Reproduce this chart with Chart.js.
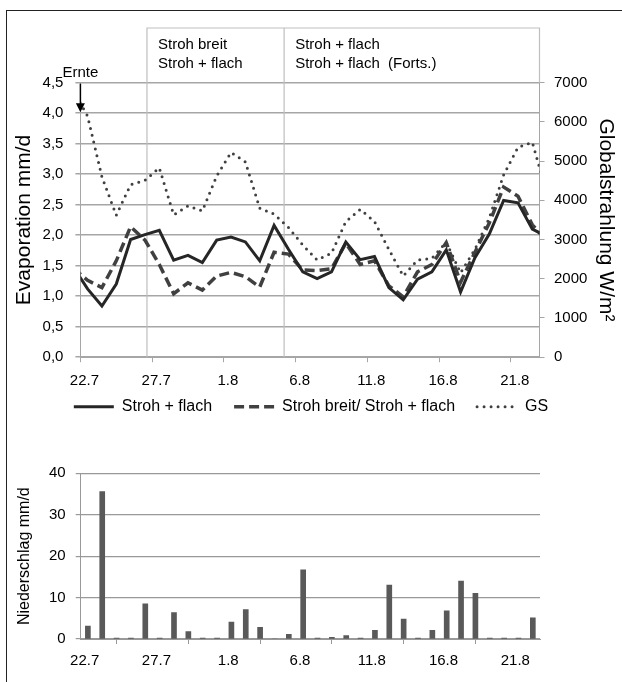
<!DOCTYPE html>
<html>
<head>
<meta charset="utf-8">
<script src="https://cdn.jsdelivr.net/npm/chart.js@4"></script>
<style>
  body { margin: 0; background: #fff; }
  #wrap { position: relative; width: 622px; height: 682px; overflow: hidden; }
  #frame { position: absolute; left: 6px; top: 10px; width: 700px; height: 700px;
           border-left: 1px solid #222; border-top: 1px solid #222; }
  #top { position: absolute; left: 0; top: 0; }
  #bottom { position: absolute; left: 0; top: 445px; }
</style>
</head>
<body>
<div id="wrap">
  <div id="frame"></div>
  <canvas id="top" width="622" height="445"></canvas>
  <canvas id="bottom" width="622" height="237"></canvas>
</div>
<script>
Chart.defaults.font.family = "'Liberation Sans', Arial, sans-serif";
Chart.defaults.font.size = 15;
Chart.defaults.color = "#000";
Chart.defaults.animation = false;

// 22.7. - 22.8.
const days = ["22.7", "23.7", "24.7", "25.7", "26.7", "27.7", "28.7", "29.7", "30.7", "31.7",
  "1.8", "2.8", "3.8", "4.8", "5.8", "6.8", "7.8", "8.8", "9.8", "10.8",
  "11.8", "12.8", "13.8", "14.8", "15.8", "16.8", "17.8", "18.8", "19.8", "20.8",
  "21.8", "22.8"];
// lines run off both ends of the axis, so one day more on each side
const lineDays = ["21.7"].concat(days, ["23.8"]);
const tickLabels = ["22.7", "27.7", "1.8", "6.8", "11.8", "16.8", "21.8"];

const strohFlach = [1.48, 1.12, 0.84, 1.20, 1.93, 2.01, 2.08, 1.59, 1.67, 1.55, 1.92,
  1.97, 1.89, 1.58, 2.16, 1.77, 1.40, 1.29, 1.40, 1.89, 1.60,
  1.65, 1.14, 0.94, 1.28, 1.40, 1.76, 1.07, 1.63, 2.02, 2.57,
  2.53, 2.10, 1.98];
const strohBreitFlach = [1.46, 1.26, 1.14, 1.58, 2.14, 1.92, 1.52, 1.04, 1.22, 1.10, 1.33,
  1.39, 1.32, 1.15, 1.72, 1.69, 1.43, 1.42, 1.45, 1.87, 1.52,
  1.58, 1.17, 0.99, 1.40, 1.52, 1.88, 1.23, 1.72, 2.20, 2.79,
  2.64, 2.17, 1.91];
const globalstrahlung = [6800, 6150, 4600, 3620, 4400, 4510, 4830, 3630, 3860, 3730, 4620,
  5220, 4980, 3800, 3650, 3310, 2860, 2480, 2650, 3460, 3770,
  3460, 2750, 2070, 2480, 2520, 2930, 2150, 2750, 3550, 4650,
  5350, 5480, 4200];
const niederschlag = [3.1, 35.6, 0.2, 0.2, 8.5, 0.2, 6.4, 1.8, 0.2, 0.2,
  4.1, 7.1, 2.8, 0, 1.1, 16.7, 0.2, 0.4, 0.8, 0.2,
  2.1, 13.0, 4.8, 0.2, 2.1, 6.8, 14.0, 11.0, 0.2, 0.2,
  0.2, 5.1];

// phase boxes above the plot (day index of the edges)
const phaseEdges = [4.14, 13.7, 31.5];
const phaseTexts = [["Stroh breit", "Stroh + flach"], ["Stroh + flach", "Stroh + flach  (Forts.)"]];

function dayTicks(scale) {
  scale.ticks = tickLabels.map((t, i) => ({ value: i * 5 - 0.5 }));
}
function dayLabel(value, index) {
  return tickLabels[index];
}
function linePoints(values) {
  return values.map((v, i) => ({ x: i - 1, y: v }));
}

// legend samples with the dataset's own dash pattern
function lineLegendLabels(chart) {
  const items = Chart.defaults.plugins.legend.labels.generateLabels(chart);
  items.forEach((it, i) => {
    const ds = chart.data.datasets[i];
    it.lineDash = ds.borderDash || [];
    it.lineWidth = ds.borderWidth;
    it.lineCap = ds.borderCapStyle || "butt";
    it.strokeStyle = ds.borderColor;
  });
  return items;
}

const phasePlugin = {
  id: "phases",
  afterLayout(chart) {
    chart.legend.top -= 16.5;
    chart.legend.bottom -= 16.5;
  },
  beforeDatasetsDraw(chart) {
    const { ctx, chartArea, scales: { x } } = chart;
    const xs = phaseEdges.map(v => x.getPixelForValue(v));
    const boxTop = 28;
    ctx.save();
    ctx.strokeStyle = "#bfbfbf";
    ctx.lineWidth = 1.2;
    ctx.beginPath();
    ctx.moveTo(xs[0], chartArea.bottom);
    ctx.lineTo(xs[0], boxTop);
    ctx.lineTo(xs[2], boxTop);
    ctx.lineTo(xs[2], chartArea.top);
    ctx.moveTo(xs[1], boxTop);
    ctx.lineTo(xs[1], chartArea.bottom);
    ctx.stroke();
    ctx.fillStyle = "#000";
    ctx.font = "15px 'Liberation Sans', Arial";
    ctx.textBaseline = "middle";
    phaseTexts.forEach((lines, i) => {
      lines.forEach((t, j) => ctx.fillText(t, xs[i] + 11, 45 + j * 19));
    });
    ctx.restore();
  },
  afterDraw(chart) {
    // harvest arrow
    const { ctx, scales: { x, y } } = chart;
    const ax = x.getPixelForValue(-0.5);
    const y0 = y.getPixelForValue(4.5) + 1;
    const tip = y.getPixelForValue(4.0) - 1;
    ctx.save();
    ctx.strokeStyle = "#000";
    ctx.fillStyle = "#000";
    ctx.lineWidth = 1.5;
    ctx.beginPath();
    ctx.moveTo(ax, y0);
    ctx.lineTo(ax, tip - 8);
    ctx.stroke();
    ctx.beginPath();
    ctx.moveTo(ax - 4.5, tip - 9);
    ctx.lineTo(ax + 4.5, tip - 9);
    ctx.lineTo(ax, tip);
    ctx.closePath();
    ctx.fill();
    ctx.font = "15px 'Liberation Sans', Arial";
    ctx.textAlign = "center";
    ctx.textBaseline = "middle";
    ctx.fillText("Ernte", ax, 73);
    ctx.restore();
  }
};

new Chart(document.getElementById("top"), {
  type: "line",
  data: {
    labels: lineDays,
    datasets: [
      {
        label: "Stroh + flach",
        data: linePoints(strohFlach),
        yAxisID: "y",
        borderColor: "#262626",
        borderWidth: 3,
        pointRadius: 0,
        clip: 0,
      },
      {
        label: "Stroh breit/ Stroh + flach",
        data: linePoints(strohBreitFlach),
        yAxisID: "y",
        borderColor: "#404040",
        borderWidth: 3.5,
        borderDash: [10, 5],
        pointRadius: 0,
        clip: 0,
      },
      {
        label: "GS",
        data: linePoints(globalstrahlung),
        yAxisID: "y1",
        borderColor: "#404040",
        borderWidth: 3,
        borderDash: [0, 7],
        borderCapStyle: "round",
        pointRadius: 0,
        clip: 0,
      },
    ],
  },
  options: {
    responsive: false,
    layout: { padding: { top: 82.7, bottom: 3.8, left: 0, right: 0 } },
    plugins: {
      legend: {
        position: "bottom",
        labels: {
          usePointStyle: true,
          pointStyle: "line",
          pointStyleWidth: 40,
          padding: 22,
          font: { size: 16 },
          generateLabels: lineLegendLabels,
        },
      },
      tooltip: { enabled: false },
    },
    scales: {
      x: {
        type: "linear",
        min: -0.5,
        max: 31.5,
        offset: false,
        afterBuildTicks: dayTicks,
        afterFit: s => { s.height = 36; },
        ticks: { callback: dayLabel, padding: 10, labelOffset: 4, maxRotation: 0, autoSkip: false },
        grid: { drawOnChartArea: false, tickLength: 5, color: "#a6a6a6" },
        border: { color: "#a6a6a6" },
      },
      y: {
        position: "left",
        min: 0,
        max: 4.5,
        ticks: { stepSize: 0.5, padding: 12, callback: v => v.toFixed(1).replace(".", ",") },
        grid: { color: "#a6a6a6", lineWidth: 1.5, tickLength: 5 },
        border: { color: "#a6a6a6" },
        title: { display: true, text: "Evaporation mm/d", font: { size: 21 }, padding: { top: 12 } },
        afterFit: s => { s.width = 80.4; },
      },
      y1: {
        position: "right",
        min: 0,
        max: 7000,
        ticks: { stepSize: 1000, padding: 9.5, callback: v => String(v) },
        grid: { drawOnChartArea: false, tickLength: 5, color: "#a6a6a6" },
        border: { color: "#a6a6a6" },
        title: { display: true, text: "Globalstrahlung W/m²", font: { size: 21 }, padding: { top: 4 } },
        afterFit: s => { s.width = 82.5; },
      },
    },
  },
  plugins: [phasePlugin],
});

new Chart(document.getElementById("bottom"), {
  type: "bar",
  data: {
    labels: days,
    datasets: [{
      label: "Niederschlag",
      data: niederschlag.map((v, i) => ({ x: i, y: v })),
      backgroundColor: "#595959",
      barThickness: 5,
    }],
  },
  options: {
    responsive: false,
    layout: { padding: { top: 28.3, right: 82, bottom: 13, left: 0 } },
    plugins: { legend: { display: false }, tooltip: { enabled: false } },
    scales: {
      x: {
        type: "linear",
        min: -0.5,
        max: 31.5,
        offset: false,
        afterBuildTicks: dayTicks,
        afterFit: s => { s.height = 30; },
        ticks: { callback: dayLabel, padding: 7.5, labelOffset: 4, maxRotation: 0, autoSkip: false },
        grid: { drawOnChartArea: false, tickLength: 5, color: "#999" },
        border: { color: "#999" },
      },
      y: {
        min: 0,
        max: 40,
        ticks: { stepSize: 10, padding: 10 },
        grid: { color: "#999", lineWidth: 1.2, tickLength: 5 },
        border: { color: "#999" },
        title: { display: true, text: "Niederschlag mm/d", font: { size: 16 }, padding: { top: 15 } },
        afterFit: s => { s.width = 80.7; },
      },
    },
  },
});
</script>
</body>
</html>
